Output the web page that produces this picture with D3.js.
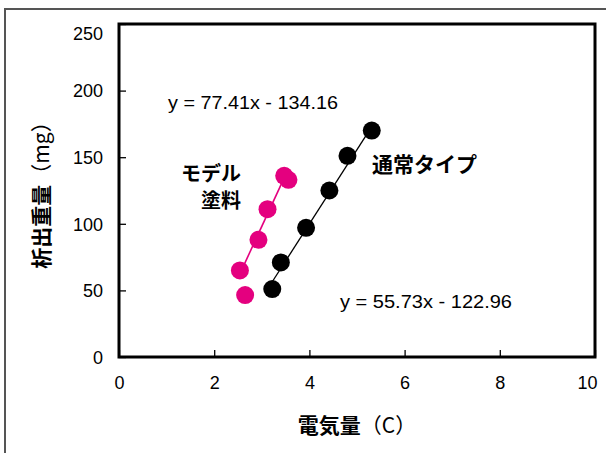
<!DOCTYPE html>
<html>
<head>
<meta charset="utf-8">
<script src="https://cdn.jsdelivr.net/npm/d3@7"></script>
<style>
  body { margin: 0; background: #fff; }
  text { font-family: "Liberation Sans", Arial, sans-serif; }
  .jp { font-family: "Noto Sans CJK JP", sans-serif; font-weight: bold; }
</style>
</head>
<body>
<div id="chart"></div>
<script>
// data
const xTicks = [0, 2, 4, 6, 8, 10];
const yTicks = [0, 50, 100, 150, 200, 250];

// モデル塗料 (pink)
const paintX = [3.56, 3.47, 3.12, 2.93, 2.54, 2.65];
const paintY = [133, 136, 111, 88, 65, 46.5];
const paintFit = [77.41, -134.16];

// 通常タイプ (black)
const normalX = [3.22, 3.40, 3.93, 4.42, 4.80, 5.31];
const normalY = [51, 71, 97, 125, 151, 170];
const normalFit = [55.73, -122.96];

function main() {
    const W = 606, H = 453;
    const plot = {left: 119, right: 595, top: 24, bottom: 357};

    const svg = d3.select("#chart")
        .append("svg")
        .attr("width", W)
        .attr("height", H);

    // outer frame (only top and left show)
    svg.append("path")
        .attr("d", `M5,${H} L5,9 L${W},9`)
        .attr("fill", "none")
        .attr("stroke", "#555")
        .attr("stroke-width", 2);

    const x = d3.scaleLinear().domain([0, 10]).range([plot.left, plot.right]);
    const y = d3.scaleLinear().domain([0, 250]).range([plot.bottom, plot.top]);

    // axes with inward ticks
    const xAxis = svg.append("g")
        .attr("transform", `translate(0,${plot.bottom})`)
        .call(d3.axisBottom(x).tickValues(xTicks).tickSizeInner(-7).tickSizeOuter(0).tickPadding(0));
    xAxis.select(".domain").remove();
    xAxis.selectAll("line").attr("stroke", "#000").attr("stroke-width", 1.3);
    xAxis.selectAll("text")
        .attr("y", 32).attr("dy", 0)
        .attr("font-size", 18).attr("fill", "#000")
        .attr("font-family", "Liberation Sans, Arial, sans-serif")
        .attr("dx", d => d === 10 ? -8 : 0);

    const yAxis = svg.append("g")
        .attr("transform", `translate(${plot.left},0)`)
        .call(d3.axisLeft(y).tickValues(yTicks).tickSizeInner(-7).tickSizeOuter(0).tickPadding(0));
    yAxis.select(".domain").remove();
    yAxis.selectAll("line").attr("stroke", "#000").attr("stroke-width", 1.3);
    yAxis.selectAll("text")
        .attr("x", -16).attr("dy", d => d === 250 ? "0.85em" : "0.35em")
        .attr("font-size", 18).attr("fill", "#000")
        .attr("font-family", "Liberation Sans, Arial, sans-serif");

    // plot border
    svg.append("rect")
        .attr("x", plot.left).attr("y", plot.top)
        .attr("width", plot.right - plot.left)
        .attr("height", plot.bottom - plot.top)
        .attr("fill", "none")
        .attr("stroke", "#000")
        .attr("stroke-width", 3);

    const series = [
        {xs: paintX, ys: paintY, fit: paintFit, color: "#E4007F", lw: 1.6},
        {xs: normalX, ys: normalY, fit: normalFit, color: "#000", lw: 1.3}
    ];

    series.forEach(function (s) {
        const x0 = d3.min(s.xs), x1 = d3.max(s.xs);
        svg.append("line")
            .attr("x1", x(x0)).attr("y1", y(s.fit[0] * x0 + s.fit[1]))
            .attr("x2", x(x1)).attr("y2", y(s.fit[0] * x1 + s.fit[1]))
            .attr("stroke", s.color)
            .attr("stroke-width", s.lw);

        svg.append("g")
            .selectAll("circle")
            .data(d3.zip(s.xs, s.ys))
            .enter()
            .append("circle")
            .attr("cx", d => x(d[0]))
            .attr("cy", d => y(d[1]))
            .attr("r", 9)
            .attr("fill", s.color);
    });

    // regression equations
    svg.append("text")
        .attr("x", 168).attr("y", 109)
        .attr("font-size", 19)
        .attr("textLength", 170).attr("lengthAdjust", "spacingAndGlyphs")
        .text("y = 77.41x - 134.16");
    svg.append("text")
        .attr("x", 340).attr("y", 308)
        .attr("font-size", 19)
        .attr("textLength", 172).attr("lengthAdjust", "spacingAndGlyphs")
        .text("y = 55.73x - 122.96");

    // series labels
    svg.append("text").attr("class", "jp")
        .attr("x", 241).attr("y", 181).attr("text-anchor", "end")
        .attr("font-size", 20).text("モデル");
    svg.append("text").attr("class", "jp")
        .attr("x", 241).attr("y", 208).attr("text-anchor", "end")
        .attr("font-size", 20).text("塗料");
    svg.append("text").attr("class", "jp")
        .attr("x", 372).attr("y", 172)
        .attr("font-size", 21).text("通常タイプ");

    // axis titles
    const xt = svg.append("text")
        .attr("x", 357).attr("y", 433)
        .attr("text-anchor", "middle")
        .attr("font-size", 21);
    xt.append("tspan").attr("class", "jp").text("電気量");
    xt.append("tspan").attr("font-family", "Noto Sans CJK JP").text("（C）");

    const yt = svg.append("text")
        .attr("transform", "translate(49,190) rotate(-90)")
        .attr("text-anchor", "middle")
        .attr("font-size", 21);
    yt.append("tspan").attr("class", "jp").text("析出重量");
    yt.append("tspan").attr("font-family", "Noto Sans CJK JP").text("（mg）");
}

main();
</script>
</body>
</html>
